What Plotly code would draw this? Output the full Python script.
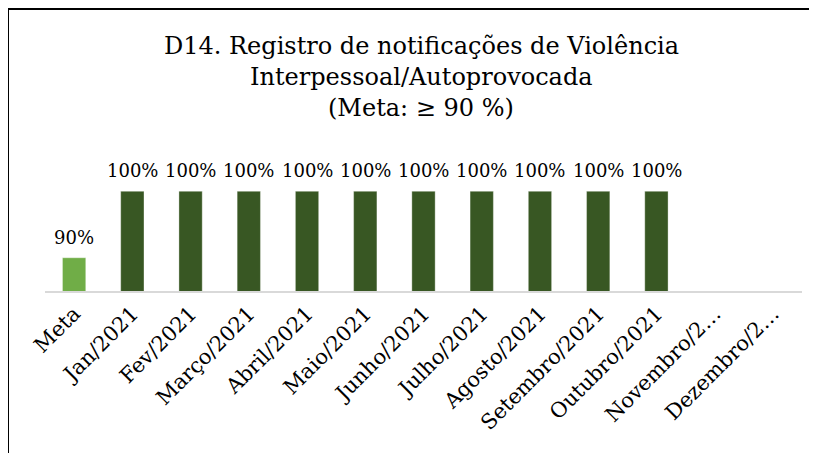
import plotly.graph_objects as go

categories = ["Meta", "Jan/2021", "Fev/2021", "Março/2021", "Abril/2021", "Maio/2021",
              "Junho/2021", "Julho/2021", "Agosto/2021", "Setembro/2021", "Outubro/2021",
              "Novembro/2021", "Dezembro/2021"]
tick_labels = ["Meta", "Jan/2021", "Fev/2021", "Março/2021", "Abril/2021", "Maio/2021",
               "Junho/2021", "Julho/2021", "Agosto/2021", "Setembro/2021", "Outubro/2021",
               "Novembro/2…", "Dezembro/2…"]
values = [90, 100, 100, 100, 100, 100, 100, 100, 100, 100, 100, None, None]
title_lines = ["D14. Registro de notificações de Violência",
               "Interpessoal/Autoprovocada",
               "(Meta: ≥ 90 %)"]

colors = ["#70AD47"] + ["#385723"] * (len(categories) - 1)

FONT = "Georgia, 'DejaVu Serif', serif"
W, H = 817, 453
OFF = 8  # page body margin
ml, mr, mt, mb = 37, 23, 142, 170
pw = W - ml - mr
ph = H - mt - mb

def px_x(x):
    return (x - OFF - ml) / pw

def px_y(y):
    return (H - mb - (y - OFF)) / ph

fig = go.Figure()
fig.add_trace(go.Bar(
    x=categories, y=values,
    marker=dict(color=colors, line=dict(color="rgba(255,255,255,0.35)", width=1)),
    width=0.4,
    hoverinfo="skip",
))

annotations = []
for line, yc in zip(title_lines, [46, 77, 108]):
    annotations.append(dict(
        text=line, xref="paper", yref="paper",
        x=px_x(421), y=px_y(yc), xanchor="center", yanchor="middle",
        showarrow=False, font=dict(family=FONT, size=24, color="#000000"),
    ))

# data labels
for c, v in zip(categories, values):
    if v is None:
        continue
    annotations.append(dict(
        text=f"{v}%", x=c, y=v, xref="x", yref="y",
        xanchor="center", yanchor="bottom", yshift=8,
        showarrow=False, font=dict(family=FONT, size=18, color="#000000"),
    ))

shapes = [
    dict(type="line", xref="paper", yref="paper",
         x0=px_x(7), x1=px_x(840), y0=px_y(9), y1=px_y(9),
         line=dict(color="#000000", width=2)),
    dict(type="line", xref="paper", yref="paper",
         x0=px_x(8), x1=px_x(8), y0=px_y(8), y1=px_y(480),
         line=dict(color="#000000", width=2)),
]

fig.update_layout(
    width=W, height=H,
    margin=dict(l=ml, r=mr, t=mt, b=mb),
    paper_bgcolor="#FFFFFF", plot_bgcolor="#FFFFFF",
    showlegend=False,
    annotations=annotations,
    shapes=shapes,
    xaxis=dict(
        type="category",
        tickmode="array", tickvals=categories, ticktext=tick_labels,
        tickangle=-45,
        tickfont=dict(family=FONT, size=21, color="#000000"),
        showline=True, linecolor="#D9D9D9", linewidth=2,
        showgrid=False, ticks="", zeroline=False,
    ),
    yaxis=dict(
        range=[85, 85 + ph / 6.65],
        visible=False, showgrid=False, zeroline=False,
    ),
    bargap=0.6,
)

fig.write_html("out.html")
